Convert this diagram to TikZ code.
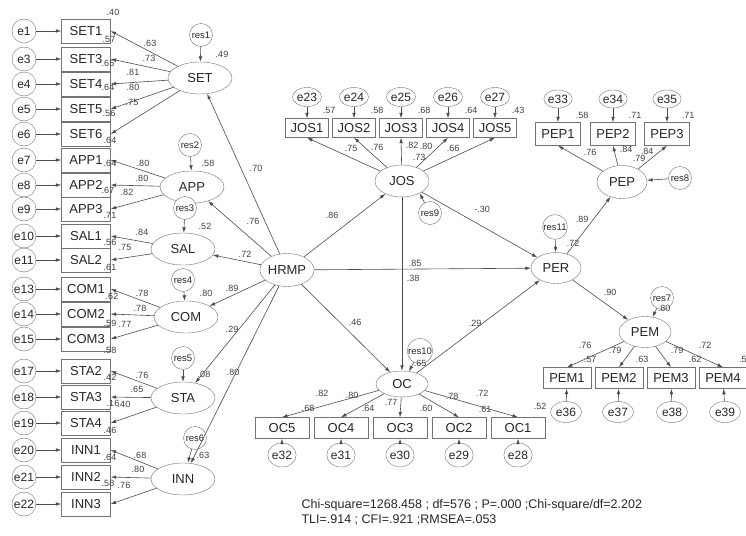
\documentclass[tikz,border=0pt]{standalone}
\usepackage{fontspec}
\setmainfont{Liberation Sans}
\usetikzlibrary{arrows,arrows.meta,positioning,shapes.geometric}

\begin{document}
\begin{tikzpicture}[
    x=1pt, y=-1pt,
    >={Latex[length=5.5pt,width=3.6pt]},
    font=\fontsize{13}{15}\selectfont,
    every node/.style={text=black!85},
    item/.style={
		rectangle,
		draw=black!55,
		inner sep=0pt,
		minimum width=49pt,
		minimum height=24pt
	},
    latent/.style={
		ellipse,
		draw=black!55,
		inner sep=0pt,
		minimum width=64pt,
		minimum height=32pt
	},
    err/.style={circle, draw=black!55, inner sep=0pt, minimum size=24pt, font=\fontsize{12}{14}\selectfont},
    erro/.style={ellipse, draw=black!55, inner sep=0pt, font=\fontsize{12}{14}\selectfont},
    resid/.style={circle, draw=black!55, inner sep=0.3pt, minimum size=23pt, font=\fontsize{9.5}{11}\selectfont},
    coef/.style={inner sep=0pt, font=\fontsize{9}{10}\selectfont, text=black!75},
    link/.style={draw=black!70, line width=0.6pt, ->}
  ]
  \useasboundingbox (0,0) rectangle (746,535);

  % left block: indicators with their errors
  \foreach \e/\b/\y in {e1/SET1/31, e3/SET3/59, e4/SET4/84, e5/SET5/109, e6/SET6/134,
      e7/APP1/160, e8/APP2/185, e9/APP3/209, e10/SAL1/236, e11/SAL2/260,
      e13/COM1/289, e14/COM2/314, e15/COM3/339, e17/STA2/371, e18/STA3/397, e19/STA4/423,
      e20/INN1/450, e21/INN2/477, e22/INN3/504}{
    \node [item] (\b) at (86,\y) {\b};
    \node [err] (\e) at (24,\y) {\e};
    \draw [link] (\e) -- (\b);
  }

  % left block: first order factors
  \node [latent] (SET) at (200,78) {SET};
  \node [latent] (APP) at (192,187) {APP};
  \node [latent] (SAL) at (183,249) {SAL};
  \node [latent] (COM) at (186,317) {COM};
  \node [latent] (STA) at (183,398) {STA};
  \node [latent] (INN) at (183,479) {INN};

  \node [resid] (res1) at (201,35) {res1};
  \node [resid] (res2) at (190,145) {res2};
  \node [resid, fill=white] (res3) at (185,208) {res3};
  \node [resid] (res4) at (183,280) {res4};
  \node [resid] (res5) at (183,358) {res5};
  \node [resid] (res6) at (195,438) {res6};

  \draw [link] (res1) -- (SET);
  \draw [link] (res2) -- (APP);
  \draw [link] (res3) -- (SAL);
  \draw [link] (res4) -- (COM);
  \draw [link] (res5) -- (STA);
  \draw [link] (res6) -- (INN);

  \foreach \b in {SET1,SET3,SET4,SET5,SET6} \draw [link] (SET) -- (\b.east);
  \foreach \b in {APP1,APP2,APP3} \draw [link] (APP) -- (\b.east);
  \foreach \b in {SAL1,SAL2} \draw [link] (SAL) -- (\b.east);
  \foreach \b in {COM1,COM2,COM3} \draw [link] (COM) -- (\b.east);
  \foreach \b in {STA2,STA3,STA4} \draw [link] (STA) -- (\b.east);
  \foreach \b in {INN1,INN2,INN3} \draw [link] (INN) -- (\b.east);

  % structural part
  \node [latent, minimum width=50pt, minimum height=33pt] (HRMP) at (287,270) {HRMP};
  \node [latent, minimum width=54pt, minimum height=32pt] (JOS) at (402,181) {JOS};
  \node [latent, minimum width=52pt, minimum height=26pt] (OC) at (402,384) {OC};
  \node [latent, minimum width=50pt, minimum height=31pt] (PER) at (556,268) {PER};
  \node [latent, minimum width=50pt, minimum height=33pt] (PEP) at (622,182) {PEP};
  \node [latent, minimum width=52pt, minimum height=31pt] (PEM) at (645,332) {PEM};

  \node [resid] (res9) at (430,213) {res9};
  \node [resid] (res10) at (420,351) {res10};
  \node [resid] (res11) at (555,227) {res11};
  \node [resid] (res8) at (680,178) {res8};
  \node [resid] (res7) at (662,298) {res7};

  \draw [link] (res9) -- (JOS.-35);
  \draw [link] (res10) -- (OC);
  \draw [link] (res11) -- (PER);
  \draw [link] (res8) -- (PEP);
  \draw [link] (res7) -- (PEM);

  \foreach \f in {SET,APP,SAL,COM,STA,INN,JOS,PER,OC} \draw [link] (HRMP) -- (\f);
  \draw [link] (JOS) -- (PER);
  \draw [link] (JOS) -- (OC);
  \draw [link] (OC) -- (PER);
  \draw [link] (PER) -- (PEP);
  \draw [link] (PER) -- (PEM);

  % indicators on the right
  \foreach \e/\b/\x in {e23/JOS1/307, e24/JOS2/354, e25/JOS3/401, e26/JOS4/448, e27/JOS5/495}{
    \node [item, minimum width=43pt, minimum height=19pt] (\b) at (\x,128) {\b};
    \node [erro, minimum width=29pt, minimum height=19pt] (\e) at (\x,97) {\e};
    \draw [link] (\e) -- (\b);
    \draw [link] (JOS) -- (\b.south);
  }
  \foreach \e/\b/\x in {e33/PEP1/558, e34/PEP2/613, e35/PEP3/667}{
    \node [item, minimum width=45pt, minimum height=23pt] (\b) at (\x,134) {\b};
    \node [erro, minimum width=27pt, minimum height=18pt] (\e) at (\x,99) {\e};
    \draw [link] (\e) -- (\b);
    \draw [link] (PEP) -- (\b.south);
  }
  \foreach \e/\b/\x in {e32/OC5/282, e31/OC4/341, e30/OC3/400, e29/OC2/459, e28/OC1/518}{
    \node [item, minimum width=54pt, minimum height=21pt] (\b) at (\x,428) {\b};
    \node [erro, minimum width=28pt, minimum height=24pt] (\e) at (\x,455) {\e};
    \draw [link] (\e) -- (\b);
    \draw [link] (OC) -- (\b.north);
  }
  \foreach \e/\b/\x/\xe in {e36/PEM1/567/566, e37/PEM2/619/618, e38/PEM3/671/672, e39/PEM4/723/725}{
    \node [item, minimum width=48pt, minimum height=21pt] (\b) at (\x,378) {\b};
    \node [erro, minimum width=31pt, minimum height=21pt] (\e) at (\xe,412) {\e};
    \draw [link] (\e) -- (\b);
    \draw [link] (PEM) -- (\b.north);
  }

  % estimates
  \foreach \lab/\x/\y [count=\i] in {.40/113/12, .57/109/39, .63/150/43, .73/149/58, .65/108/63,
      .81/133/72, .64/108/87, .80/133/87, .75/132/102, .56/109/113, .64/110/140, .49/222/54,
      .80/143/163, .64/110/163, .80/142/178, .67/108/190, .82/127/192, .71/110/215, .58/208/163,
      .84/142/232, .56/110/242, .75/125/247, .61/110/267, .52/205/226,
      .78/142/293, .62/112/296, .78/140/308, .59/110/323, .77/125/324, .58/110/350, .80/206/293,
      .76/142/375, .42/110/377, .65/137/389, .16/113/403, .40/124/404, .46/110/430, .08/204/374,
      .68/140/455, .64/110/457, .80/138/469, .58/108/483, .76/124/485, .63/203/455,
      .70/256/168, .76/253/221, .72/245/254, .89/232/288, .29/232/329, .80/233/372,
      .86/332/215, .85/415/263, .38/413/278, .46/355/322, .29/475/323, -.30/482/209, .65/420/363,
      .57/329/110, .58/377/110, .68/424/110, .64/471/110, .43/518/110,
      .75/351/148, .76/377/147, .82/412/145, .80/426/146, .73/419/157, .66/453/148,
      .82/322/393, .80/352/395, .68/308/408, .64/368/408, .77/391/402, .60/426/408,
      .78/452/396, .72/482/393, .61/485/409, .52/540/406,
      .58/582/115, .71/635/115, .71/688/115, .76/590/152, .84/626/149, .84/647/151, .79/639/158,
      .89/582/219, .72/573/243, .90/610/292,
      .80/664/308, .76/585/345, .57/590/359, .79/615/350, .63/642/359, .79/677/350,
      .62/695/359, .72/705/345}
    \node [coef] (c\i) at (\x,\y) {\lab};
  \node [coef, anchor=west] (cpem4) at (739,359) {.5};

  % fit indices
  \node [anchor=west, align=left, font=\fontsize{12.5}{15}\selectfont] (fitidx) at (298,512)
  {Chi-square=1268.458 ; df=576 ; P=.000 ;Chi-square/df=2.202\\TLI=.914 ; CFI=.921 ;RMSEA=.053};

\end{tikzpicture}
\end{document}
